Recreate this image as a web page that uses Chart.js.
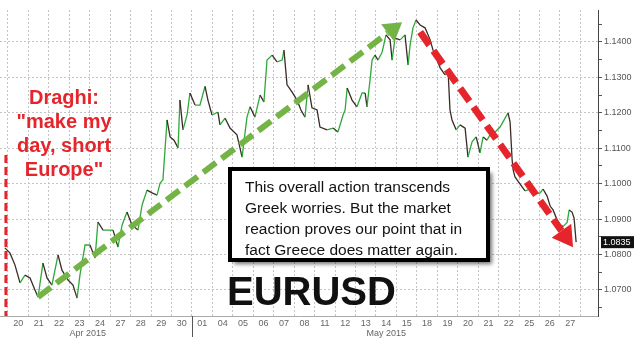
<!DOCTYPE html>
<html>
<head>
<meta charset="utf-8">
<script src="https://cdn.jsdelivr.net/npm/chart.js@4.4.0/dist/chart.umd.min.js"></script>
<style>
  html, body { margin: 0; padding: 0; background: #fff; }
  canvas { display: block; }
</style>
</head>
<body>
<canvas id="fxChart" width="640" height="347"></canvas>
<script>
// Etiquetas de los días de negociación (20 abr - 27 may 2015)
const dayLabels = ['20','21','22','23','24','27','28','29','30','01','04','05','06','07','08',
                   '11','12','13','14','15','18','19','20','21','22','25','26','27'];
const monthLabels = ['Apr 2015', 'May 2015'];
const monthCenters = [3.9, 18.5];   // en días de negociación
const monthBreak = 9;               // inicio de mayo

// Tiempo en días de negociación desde la apertura del 20 abr
const tradeTime = [
  -0.15, 0.10, 0.34, 0.59, 0.83,
  1.08, 1.32, 1.47, 1.71, 1.91,
  2.15, 2.45, 2.64, 2.94,
  3.18, 3.38, 3.52, 3.77,
  4.01, 4.26, 4.40, 4.65, 4.89,
  5.14, 5.38, 5.58, 5.82,
  6.07, 6.36, 6.56, 6.80,
  7.05, 7.29, 7.44, 7.58, 7.68, 7.78,
  7.93, 8.12, 8.32, 8.41, 8.56,
  8.76, 8.90, 9.15, 9.39, 9.64,
  9.78, 9.98, 10.27, 10.37, 10.62,
  10.86, 11.20, 11.45, 11.69, 11.84,
  12.08, 12.33, 12.52, 12.67, 12.92,
  13.16, 13.41, 13.50, 13.65, 13.89,
  14.14, 14.33, 14.53, 14.68, 14.87,
  15.12, 15.26, 15.61, 15.90,
  16.14, 16.39, 16.49, 16.59, 16.83,
  17.07, 17.32, 17.47, 17.56, 17.71, 17.81,
  17.95, 18.10, 18.30, 18.49, 18.69, 18.79,
  18.93, 19.18, 19.42, 19.57, 19.67, 19.81,
  19.96, 20.16, 20.40, 20.65, 20.79,
  20.99, 21.14, 21.38, 21.53, 21.62, 21.72, 21.92,
  22.11, 22.36, 22.50, 22.70, 22.90,
  23.09, 23.24, 23.43, 23.58, 23.83,
  24.07, 24.46, 24.56, 24.66, 24.71,
  24.80, 25.05, 25.29,
  25.54, 25.78, 26.03, 26.17, 26.37, 26.52, 26.66,
  26.86, 27.01, 27.15, 27.35, 27.45, 27.59, 27.69, 27.79
];

// Cotización EURUSD
const eurusd = [
  1.0819, 1.0804, 1.0771, 1.0720, 1.0742,
  1.0734, 1.0700, 1.0680, 1.0776, 1.0734,
  1.0714, 1.0799, 1.0756, 1.0728,
  1.0714, 1.0677, 1.0742, 1.0827,
  1.0827, 1.0790, 1.0892, 1.0869, 1.0869,
  1.0869, 1.0821, 1.0883, 1.0920,
  1.0883, 1.0869, 1.0940, 1.0982,
  1.0974, 1.0968, 1.1002, 1.1011, 1.1095, 1.1180,
  1.1132, 1.1123, 1.1101, 1.1236, 1.1152,
  1.1194, 1.1256, 1.1222, 1.1222, 1.1275,
  1.1236, 1.1194, 1.1202, 1.1166, 1.1185,
  1.1157, 1.1138, 1.1075, 1.1188, 1.1217,
  1.1188, 1.1250, 1.1231, 1.1349, 1.1363,
  1.1344, 1.1349, 1.1377, 1.1279, 1.1259,
  1.1236, 1.1208, 1.1188, 1.1279, 1.1214,
  1.1208, 1.1160, 1.1152, 1.1157,
  1.1146, 1.1194, 1.1208, 1.1270, 1.1236,
  1.1217, 1.1256, 1.1256, 1.1217, 1.1293, 1.1349,
  1.1363, 1.1349, 1.1371, 1.1420, 1.1406, 1.1349,
  1.1411, 1.1406, 1.1420, 1.1335, 1.1392, 1.1440,
  1.1462, 1.1448, 1.1440, 1.1406, 1.1377,
  1.1349, 1.1327, 1.1307, 1.1315, 1.1208, 1.1180, 1.1152,
  1.1166, 1.1157, 1.1075, 1.1118, 1.1132,
  1.1087, 1.1132, 1.1123, 1.1138, 1.1146,
  1.1160, 1.1200, 1.1174, 1.1067, 1.1039,
  1.1019, 1.0999, 1.0980,
  1.0985, 1.0971, 1.0974, 1.0985, 1.0965, 1.0937, 1.0926,
  1.0898, 1.0884, 1.0879, 1.0891, 1.0926, 1.0920, 1.0903, 1.0835
];

// Flechas de tendencia (tiempo, precio)
const upTrend = [[1.47, 1.0680], [19.28, 1.1456]];
const downTrend = [[20.16, 1.1428], [27.64, 1.0821]];
const draghiTime = -0.1;
const draghiTop = 1.1081;

const draghiText = ['Draghi:', '"make my', 'day, short', 'Europe"'];
const boxText = ['This overall action transcends',
                 'Greek worries. But the market',
                 'reaction proves our point that in',
                 'fact Greece does matter again.'];

const VERDE = '#2fa83a';
const OSCURO = '#3a2c26';
const ROJO = '#e5252b';

const puntos = tradeTime.map((t, i) => ({ x: t, y: eurusd[i] }));

// Flecha discontinua con punta rellena
function flecha(ctx, x0, y0, x1, y1, color, ancho, dash, largo, medio) {
    const ang = Math.atan2(y1 - y0, x1 - x0);
    const bx = x1 - largo * Math.cos(ang);
    const by = y1 - largo * Math.sin(ang);
    ctx.save();
    ctx.strokeStyle = color;
    ctx.lineWidth = ancho;
    ctx.setLineDash(dash);
    ctx.beginPath();
    ctx.moveTo(x0, y0);
    ctx.lineTo(bx, by);
    ctx.stroke();
    ctx.setLineDash([]);
    ctx.fillStyle = color;
    ctx.beginPath();
    ctx.moveTo(x1, y1);
    ctx.lineTo(bx + medio * Math.sin(ang), by - medio * Math.cos(ang));
    ctx.lineTo(bx - medio * Math.sin(ang), by + medio * Math.cos(ang));
    ctx.closePath();
    ctx.fill();
    ctx.restore();
}

const anotaciones = {
    id: 'anotaciones',
    afterDatasetsDraw(chart) {
        const ctx = chart.ctx;
        const xs = chart.scales.x;
        const ys = chart.scales.y;
        const area = chart.chartArea;

        // Línea vertical roja (Draghi)
        const vx = xs.getPixelForValue(draghiTime);
        ctx.save();
        ctx.strokeStyle = ROJO;
        ctx.lineWidth = 3;
        ctx.setLineDash([8, 4]);
        ctx.beginPath();
        ctx.moveTo(vx, ys.getPixelForValue(draghiTop));
        ctx.lineTo(vx, area.bottom);
        ctx.stroke();
        ctx.restore();

        // Flechas
        flecha(ctx, xs.getPixelForValue(upTrend[0][0]), ys.getPixelForValue(upTrend[0][1]),
               xs.getPixelForValue(upTrend[1][0]), ys.getPixelForValue(upTrend[1][1]),
               '#74b446', 6, [16, 7], 18, 11);
        flecha(ctx, xs.getPixelForValue(downTrend[0][0]), ys.getPixelForValue(downTrend[0][1]),
               xs.getPixelForValue(downTrend[1][0]), ys.getPixelForValue(downTrend[1][1]),
               ROJO, 7, [16, 7], 20, 12);

        // Texto Draghi
        ctx.save();
        ctx.fillStyle = ROJO;
        ctx.font = 'bold 20px "Liberation Sans", Arial, sans-serif';
        ctx.textAlign = 'center';
        ctx.textBaseline = 'middle';
        draghiText.forEach((l, i) => ctx.fillText(l, 64, 98 + i * 24));
        ctx.restore();

        // Recuadro de comentario
        ctx.save();
        ctx.shadowColor = 'rgba(0,0,0,0.55)';
        ctx.shadowBlur = 4;
        ctx.shadowOffsetX = 4;
        ctx.shadowOffsetY = 4;
        ctx.fillStyle = '#fff';
        ctx.fillRect(230, 169, 258, 91);
        ctx.shadowColor = 'transparent';
        ctx.strokeStyle = '#000';
        ctx.lineWidth = 4;
        ctx.strokeRect(230, 169, 258, 91);
        ctx.fillStyle = '#111';
        ctx.font = '15.5px "Liberation Sans", Arial, sans-serif';
        ctx.textBaseline = 'middle';
        boxText.forEach((l, i) => ctx.fillText(l, 245, 188 + i * 21));
        ctx.restore();

        // EURUSD
        ctx.save();
        ctx.fillStyle = '#111';
        ctx.font = 'bold 40px "Liberation Sans", Arial, sans-serif';
        ctx.textBaseline = 'middle';
        ctx.fillText('EURUSD', 227, 294);
        ctx.restore();
    },
    afterDraw(chart) {
        const ctx = chart.ctx;
        const xs = chart.scales.x;
        const ys = chart.scales.y;
        const area = chart.chartArea;

        // Separador de mes y etiquetas de mes
        const mx = Math.round(xs.getPixelForValue(monthBreak)) + 0.5;
        ctx.save();
        ctx.strokeStyle = '#555';
        ctx.lineWidth = 1;
        ctx.beginPath();
        ctx.moveTo(mx, area.bottom);
        ctx.lineTo(mx, area.bottom + 21);
        ctx.stroke();
        ctx.fillStyle = '#666';
        ctx.font = '9px "Liberation Sans", Arial, sans-serif';
        ctx.textAlign = 'center';
        ctx.textBaseline = 'middle';
        monthLabels.forEach((m, i) => ctx.fillText(m, xs.getPixelForValue(monthCenters[i]), area.bottom + 17.5));

        // Último precio
        const ultimo = eurusd[eurusd.length - 1];
        const ly = ys.getPixelForValue(ultimo);
        ctx.fillStyle = '#111';
        ctx.fillRect(area.right + 3, ly - 6, 33, 12);
        ctx.fillStyle = '#fff';
        ctx.textAlign = 'left';
        ctx.fillText(ultimo.toFixed(4), area.right + 5, ly + 0.5);
        ctx.restore();
    }
};

new Chart(document.getElementById('fxChart').getContext('2d'), {
    type: 'line',
    data: {
        datasets: [{
            data: puntos,
            borderWidth: 1.3,
            pointRadius: 0,
            tension: 0,
            segment: {
                borderColor: c => c.p1.parsed.y >= c.p0.parsed.y ? VERDE : OSCURO
            }
        }]
    },
    options: {
        responsive: false,
        animation: false,
        layout: { padding: { top: 10, left: 0, right: 0, bottom: 0 } },
        plugins: { legend: { display: false }, tooltip: { enabled: false } },
        scales: {
            x: {
                type: 'linear',
                min: -0.39,
                max: 28.86,
                afterBuildTicks: s => { s.ticks = dayLabels.map((d, i) => ({ value: i + 0.5 })); },
                afterFit: s => { s.height = 31; },
                ticks: {
                    autoSkip: false,
                    maxRotation: 0,
                    padding: 2,
                    color: '#666',
                    font: { size: 9, family: '"Liberation Sans", Arial, sans-serif' },
                    callback: (v, i) => dayLabels[i]
                },
                grid: { offset: true, color: '#c4c4c4', drawTicks: false },
                border: { color: '#aaa', dash: [2, 2] }
            },
            y: {
                position: 'right',
                min: 1.06266,
                max: 1.14903,
                afterBuildTicks: s => {
                    const t = [];
                    for (let k = 1065; k <= 1145; k += 5) t.push({ value: k / 1000 });
                    s.ticks = t;
                },
                afterFit: s => { s.width = 42; },
                ticks: {
                    autoSkip: false,
                    padding: 2,
                    color: '#555',
                    font: { size: 9, family: '"Liberation Sans", Arial, sans-serif' },
                    callback: v => Math.round(v * 1000) % 10 === 0 ? v.toFixed(4) : ''
                },
                grid: {
                    color: c => c.tick && Math.round(c.tick.value * 1000) % 10 === 0 ? '#c4c4c4' : 'transparent',
                    tickColor: '#555',
                    tickLength: 4
                },
                border: { color: '#444', dash: [2, 2] }
            }
        }
    },
    plugins: [anotaciones]
});
</script>
</body>
</html>
